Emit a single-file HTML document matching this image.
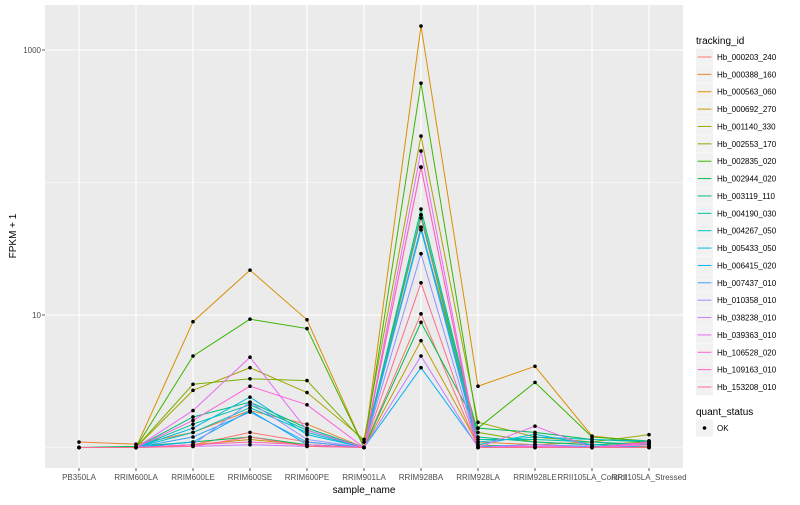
<!DOCTYPE html>
<html><head><meta charset="utf-8"><style>
body{margin:0;background:#fff;font-family:"Liberation Sans",sans-serif}
svg text{font-family:"Liberation Sans",sans-serif}
</style></head><body>
<svg id="c" width="800" height="500"></svg>
<script>
const samples=["PB350LA","RRIM600LA","RRIM600LE","RRIM600SE","RRIM600PE","RRIM901LA","RRIM928BA","RRIM928LA","RRIM928LE","RRII105LA_Control","RRII105LA_Stressed"];
const ids=["Hb_000203_240","Hb_000388_160","Hb_000563_060","Hb_000692_270","Hb_001140_330","Hb_002553_170","Hb_002835_020","Hb_002944_020","Hb_003119_110","Hb_004190_030","Hb_004267_050","Hb_005433_050","Hb_006415_020","Hb_007437_010","Hb_010358_010","Hb_038238_010","Hb_039363_010","Hb_106528_020","Hb_109163_010","Hb_153208_010"];
const colors=["#F8766D","#EA8331","#D89000","#C09B00","#A3A500","#7CAE00","#39B600","#00BB4E","#00BF7D","#00C1A3","#00BFC4","#00BAE0","#00B0F6","#35A2FF","#9590FF","#C77CFF","#E76BF3","#FA62DB","#FF62BC","#FF6C91"];
const s01=[1,1,1.05,1.3,1.1,1,10.2,1,1,1,1.05];
const s02=[1.1,1.06,1.3,1.9,1.5,1,54,1.1,1.05,1.1,1.05];
const s03=[1,1,8.9,21.8,9.2,1,1517,2.9,4.1,1.22,1.1];
const s04=[1,1,1.05,1.15,1.05,1,6.4,1.05,1,1,1.02];
const s05=[1,1,2.7,4.0,2.6,1.15,224,1.55,1.2,1.1,1.25];
const s06=[1,1,3.0,3.3,3.2,1.1,44,1.3,1.1,1.05,1.1];
const s07=[1,1,4.9,9.3,7.9,1,562,1.4,3.1,1.2,1.12];
const s08=[1,1.02,1.1,1.2,1.05,1,8.8,1.4,1.3,1.15,1.1];
const s09=[1,1,1.7,2.2,1.4,1,63,1.2,1.1,1.05,1.08];
const s10=[1,1,1.5,2.1,1.35,1,57,1.15,1.15,1.1,1.05];
const s11=[1,1,1.3,2.0,1.3,1,46,1.1,1.2,1.15,1.12];
const s12=[1,1,1.4,2.4,1.25,1,44,1.05,1.26,1.05,1];
const s13=[1,1,1.1,1.9,1.05,1,4.0,1.02,1.05,1,1];
const s14=[1,1,1.2,1.85,1.1,1,46,1,1.05,1.02,1];
const s15=[1,1,1.05,2.2,1.15,1,29,1,1,1,1];
const s16=[1,1,1.02,1.05,1.02,1,4.9,1,1.05,1,1];
const s17=[1,1,1.9,4.8,1.35,1,173,1,1.45,1,1.05];
const s18=[1,1,1.6,2.9,2.1,1,131,1,1.02,1,1.08];
const s19=[1,1,1.05,1.1,1.05,1,130,1,1,1,1.1];
const s20=[1,1,1.02,1.2,1.02,1,17.5,1,1,1,1];
const series=[s01,s02,s03,s04,s05,s06,s07,s08,s09,s10,s11,s12,s13,s14,s15,s16,s17,s18,s19,s20];
const yTicks=[10,1000];
const yMinor=[1,100];

const NS="http://www.w3.org/2000/svg";
const svg=document.getElementById('c');
function mk(t,a,p){const e=document.createElementNS(NS,t);for(const k in a)e.setAttribute(k,a[k]);(p||svg).appendChild(e);return e;}
const PL=45,PR=683,PT=5,PB=468;
const x0=79,dx=57;
function X(i){return x0+i*dx;}
function Y(v){return 447.5-132.5*Math.log10(v);}
const panel=mk('rect',{x:PL,y:PT,width:PR-PL,height:PB-PT,fill:'#EBEBEB'});


yMinor.forEach(v=>{const l=mk('line',{x1:PL,x2:PR,y1:Y(v),y2:Y(v),stroke:'#fff','stroke-width':0.5});

});
yTicks.forEach(v=>{const l=mk('line',{x1:PL,x2:PR,y1:Y(v),y2:Y(v),stroke:'#fff','stroke-width':1.1});


const tk=mk('line',{x1:PL-3,x2:PL,y1:Y(v),y2:Y(v),stroke:'#333','stroke-width':0.8});


const t=mk('text',{x:PL-4,y:Y(v)+3,'text-anchor':'end','font-size':8,fill:'#4d4d4d'});t.textContent=v;

});
samples.forEach((s,i)=>{const l=mk('line',{x1:X(i),x2:X(i),y1:PT,y2:PB,stroke:'#fff','stroke-width':1.1});


const tk=mk('line',{x1:X(i),x2:X(i),y1:PB,y2:PB+3,stroke:'#333','stroke-width':0.8});


const t=mk('text',{x:X(i),y:PB+12,'text-anchor':'middle','font-size':8,fill:'#4d4d4d'});t.textContent=s;

});
series.forEach((d,k)=>{const p=mk('polyline',{points:d.map((v,i)=>X(i)+','+Y(v)).join(' '),fill:'none',stroke:colors[k],'stroke-width':1});

});
series.forEach((d,k)=>d.forEach((v,i)=>{const c=mk('circle',{cx:X(i),cy:Y(v),r:1.8,fill:'#000'});

}));
const xt=mk('text',{x:(PL+PR)/2,y:493,'text-anchor':'middle','font-size':10,fill:'#000'});xt.textContent='sample_name';


const yt=mk('text',{x:0,y:0,'text-anchor':'middle','font-size':10,fill:'#000',transform:'translate(16,236) rotate(-90)'});yt.textContent='FPKM + 1';


const lt=mk('text',{x:696,y:44,'font-size':10,fill:'#000'});lt.textContent='tracking_id';


ids.forEach((id,k)=>{const y=57+k*17.37;
const g=mk('g',{});


mk('rect',{x:696,y:y-8.5,width:17,height:17,fill:'#F2F2F2'},g);
mk('line',{x1:697.5,x2:711.5,y1:y,y2:y,stroke:colors[k],'stroke-width':1},g);
const t=mk('text',{x:717,y:y+3,'font-size':8,fill:'#000'},g);t.textContent=id;});
const qt=mk('text',{x:696,y:415,'font-size':10,fill:'#000'});qt.textContent='quant_status';


const g2=mk('g',{});


mk('rect',{x:696,y:419.5,width:17,height:17,fill:'#F2F2F2'},g2);
mk('circle',{cx:704.5,cy:428,r:1.8,fill:'#000'},g2);
const ok=mk('text',{x:717,y:431,'font-size':8,fill:'#000'},g2);ok.textContent='OK';
</script>
</body></html>
